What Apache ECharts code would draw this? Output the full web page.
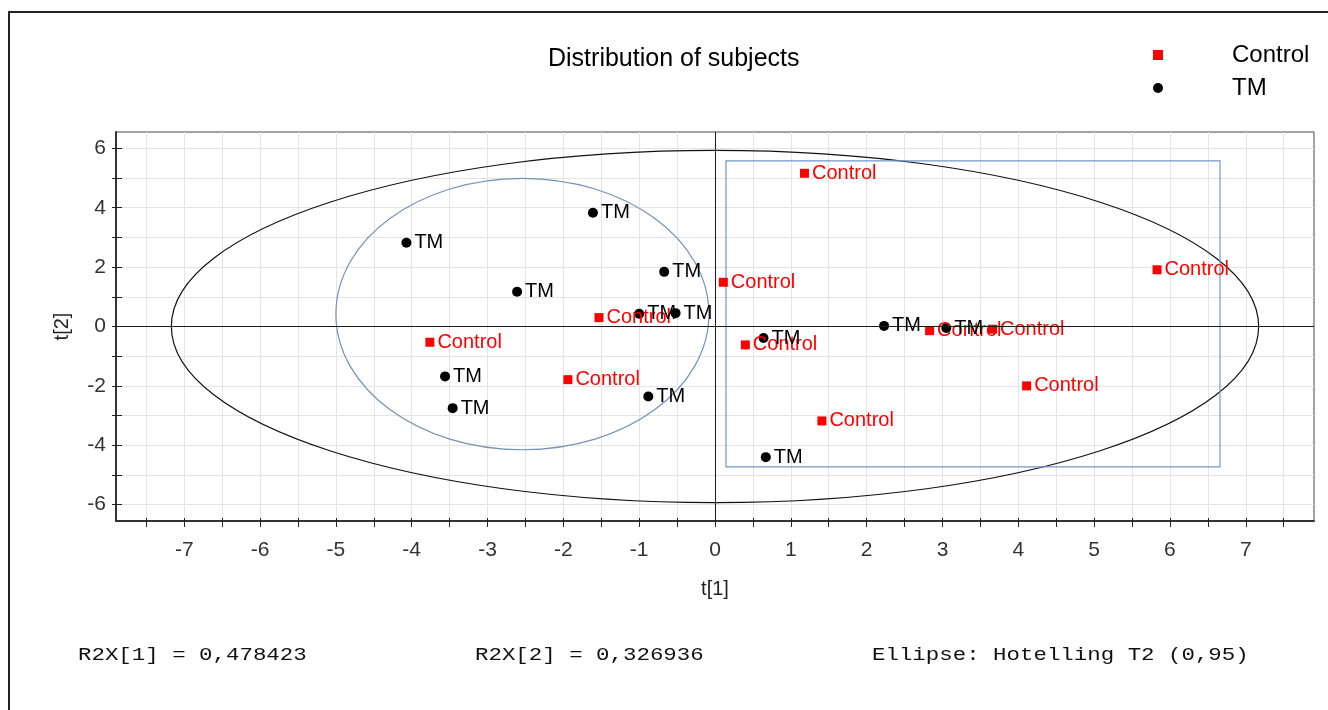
<!DOCTYPE html>
<html>
<head>
<meta charset="utf-8">
<script src="https://cdn.jsdelivr.net/npm/echarts@6/dist/echarts.min.js"></script>
<style>
html,body{margin:0;padding:0;background:#fff;}
#c{width:1328px;height:710px;}
</style>
</head>
<body>
<div id="c"></div>
<script>
// ---- data ----
const tmPoints = [
  [-4.07, 2.82], [-1.61, 3.83], [-2.61, 1.17], [-0.67, 1.84], [-1.00, 0.43],
  [-0.52, 0.45], [-3.56, -1.68], [-3.46, -2.75], [-0.88, -2.36], [0.64, -0.39],
  [0.67, -4.40], [2.23, 0.02], [3.05, -0.05]
];
const controlPoints = [
  [1.18, 5.16], [0.11, 1.49], [-1.53, 0.30], [-3.76, -0.53], [-1.94, -1.79],
  [0.40, -0.62], [1.41, -3.18], [5.83, 1.91], [2.83, -0.14], [3.66, -0.09],
  [4.11, -2.00]
];
// ellipse: [centerX, centerY, radiusX, radiusY]
const hotellingEllipse = [[0, 0, 7.17, 5.93]];
const groupEllipse = [[-2.54, 0.42, 2.46, 4.57]];
// rectangle: [x1, y1, x2, y2]
const groupRect = [[0.145, 5.58, 6.66, -4.73]];

const xTicks = [-7.5,-7,-6.5,-6,-5.5,-5,-4.5,-4,-3.5,-3,-2.5,-2,-1.5,-1,-0.5,0,0.5,1,1.5,2,2.5,3,3.5,4,4.5,5,5.5,6,6.5,7,7.5];
const xLabels = [-7,-6,-5,-4,-3,-2,-1,0,1,2,3,4,5,6,7];
const yTicks = [-6,-5,-4,-3,-2,-1,0,1,2,3,4,5,6];
const yLabels = [-6,-4,-2,0,2,4,6];
const xRange = [-7.9, 7.9];
const yRange = [-6.55, 6.55];
const footerTexts = ['R2X[1] = 0,478423', 'R2X[2] = 0,326936', 'Ellipse: Hotelling T2 (0,95)'];

const FONT = '"Liberation Sans", Arial, sans-serif';
const MONO = '"Courier New", "Liberation Mono", monospace';

const chart = echarts.init(document.getElementById('c'), null, {renderer: 'canvas'});

function ellipseItem(color) {
  return function (params, api) {
    const c = api.coord([api.value(0), api.value(1)]);
    const s = api.size([api.value(2), api.value(3)]);
    return {
      type: 'ellipse',
      shape: {cx: c[0], cy: c[1], rx: s[0], ry: s[1]},
      style: {fill: 'none', stroke: color, lineWidth: 1.2}
    };
  };
}
function rectItem(color) {
  return function (params, api) {
    const p1 = api.coord([api.value(0), api.value(1)]);
    const p2 = api.coord([api.value(2), api.value(3)]);
    return {
      type: 'rect',
      shape: {x: Math.min(p1[0], p2[0]), y: Math.min(p1[1], p2[1]),
              width: Math.abs(p2[0] - p1[0]), height: Math.abs(p2[1] - p1[1])},
      style: {fill: 'none', stroke: color, lineWidth: 1.2}
    };
  };
}

const baseX = {
  type: 'value', min: xRange[0], max: xRange[1], position: 'bottom'
};
const baseY = {
  type: 'value', min: yRange[0], max: yRange[1], position: 'left'
};

const option = {
  animation: false,
  backgroundColor: '#fff',
  title: {
    text: 'Distribution of subjects',
    left: 543, top: 42,
    textStyle: {fontFamily: FONT, fontSize: 25, fontWeight: 'normal', color: '#000'}
  },
  legend: {
    orient: 'vertical', left: 1148, top: 38,
    itemWidth: 10, itemHeight: 10, itemGap: 9,
    data: [{name: 'Control', icon: 'rect'}, {name: 'TM', icon: 'circle'}],
    formatter: function (n) { return '{g|}' + n; },
    textStyle: {fontFamily: FONT, fontSize: 24, color: '#000', lineHeight: 24,
      rich: {g: {width: 64}}}
  },
  grid: {left: 116, right: 14, top: 132, bottom: 189, show: true,
    borderColor: '#444', borderWidth: 1, backgroundColor: '#fff'},
  xAxis: [
    Object.assign({}, baseX, {
      name: 't[1]', nameLocation: 'middle', nameGap: 58,
      nameTextStyle: {fontFamily: FONT, fontSize: 20, color: '#222'},
      axisLine: {show: true, onZero: false, lineStyle: {color: '#333', width: 2}},
      axisTick: {show: true, inside: false, length: 6, customValues: xTicks, lineStyle: {color: '#222'}},
      axisLabel: {show: true, customValues: xLabels, margin: 19, fontFamily: FONT, fontSize: 21, color: '#333'},
      splitLine: {show: true, lineStyle: {color: '#e4e4e4', width: 1}}
    }),
    Object.assign({}, baseX, {
      axisLine: {show: false, onZero: false},
      axisTick: {show: true, inside: true, length: 3, customValues: xTicks, lineStyle: {color: '#222'}},
      axisLabel: {show: false},
      splitLine: {show: false}
    })
  ],
  yAxis: [
    Object.assign({}, baseY, {
      name: 't[2]', nameLocation: 'middle', nameGap: 44, nameRotate: 90,
      nameTextStyle: {fontFamily: FONT, fontSize: 20, color: '#222'},
      axisLine: {show: true, onZero: false, lineStyle: {color: '#333', width: 2}},
      axisTick: {show: true, inside: false, length: 4, customValues: yTicks, lineStyle: {color: '#222'}},
      axisLabel: {show: true, customValues: yLabels, margin: 10, fontFamily: FONT, fontSize: 21, color: '#333'},
      splitLine: {show: true, lineStyle: {color: '#e4e4e4', width: 1}}
    }),
    Object.assign({}, baseY, {
      axisLine: {show: false, onZero: false},
      axisTick: {show: true, inside: true, length: 6, customValues: yTicks, lineStyle: {color: '#222'}},
      axisLabel: {show: false},
      splitLine: {show: false}
    })
  ],
  series: [
    {
      type: 'custom', name: 'hotelling', silent: true, z: 1,
      renderItem: ellipseItem('#111'), data: hotellingEllipse
    },
    {
      type: 'custom', name: 'groupEllipse', silent: true, z: 1,
      renderItem: ellipseItem('#7591b5'), data: groupEllipse
    },
    {
      type: 'custom', name: 'groupRect', silent: true, z: 1,
      renderItem: rectItem('#6f98cc'), data: groupRect
    },
    {
      type: 'scatter', name: 'Control', symbol: 'rect', symbolSize: 9, z: 3,
      itemStyle: {color: '#ff0000', opacity: 1},
      label: {show: true, position: 'right', distance: 3, formatter: 'Control',
        fontFamily: FONT, fontSize: 20, color: '#ff0000'},
      data: controlPoints,
      markLine: {
        silent: true, symbol: 'none', label: {show: false},
        lineStyle: {color: '#1a1a1a', width: 1, type: 'solid'},
        data: [{xAxis: 0}, {yAxis: 0}]
      }
    },
    {
      type: 'scatter', name: 'TM', symbol: 'circle', symbolSize: 10, z: 3,
      itemStyle: {color: '#000', opacity: 1},
      label: {show: true, position: 'right', distance: 3, formatter: 'TM',
        fontFamily: FONT, fontSize: 20, color: '#000'},
      data: tmPoints
    }
  ],
  graphic: [
    {type: 'rect', shape: {x: 9, y: 12, width: 1400, height: 800},
      style: {fill: 'none', stroke: '#222', lineWidth: 2}, silent: true, z: 100},
    {type: 'text', x: 78, y: 655, scaleX: 1.18, style: {text: footerTexts[0], font: '19px ' + MONO, fill: '#111', verticalAlign: 'middle'}},
    {type: 'text', x: 475, y: 655, scaleX: 1.18, style: {text: footerTexts[1], font: '19px ' + MONO, fill: '#111', verticalAlign: 'middle'}},
    {type: 'text', x: 872, y: 655, scaleX: 1.18, style: {text: footerTexts[2], font: '19px ' + MONO, fill: '#111', verticalAlign: 'middle'}}
  ]
};
chart.setOption(option);
</script>
</body>
</html>
